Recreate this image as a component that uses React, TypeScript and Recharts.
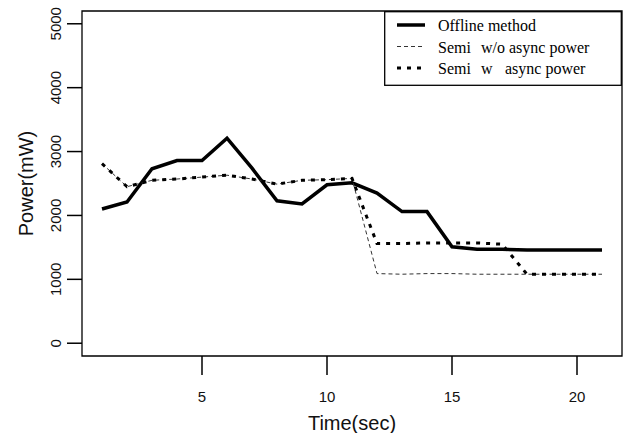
import { LineChart, Line, XAxis, YAxis, ReferenceArea, Legend } from 'recharts';

// seconds
const timeSec = [1, 2, 3, 4, 5, 6, 7, 8, 9, 10, 11, 12, 13, 14, 15, 16, 17, 18, 19, 20, 21];

// power in mW
const offlinePower = [2100, 2210, 2730, 2860, 2860, 3210, 2740, 2230, 2180, 2480, 2510, 2350, 2060, 2060, 1510, 1470, 1470, 1460, 1460, 1460, 1460];
const semiNoAsync = [2810, 2450, 2550, 2570, 2600, 2630, 2570, 2490, 2550, 2560, 2580, 1090, 1080, 1090, 1090, 1080, 1080, 1080, 1080, 1080, 1080];
const semiAsync = [2810, 2450, 2550, 2570, 2600, 2630, 2570, 2490, 2550, 2560, 2580, 1560, 1560, 1570, 1570, 1570, 1550, 1080, 1080, 1080, 1080];

const xTicks = [5, 10, 15, 20];
const yTicks = [0, 1000, 2000, 3000, 4000, 5000];

const SANS = "Arial, 'Liberation Sans', sans-serif";
const SERIF = "'Times New Roman', 'Liberation Serif', serif";

const SERIES = [
  { key: 'offline', label: 'Offline method', width: 3.5, dash: undefined as string | undefined, colour: '#000' },
  { key: 'semiNo', label: 'Semi   w/o async power', width: 1, dash: '4 3', colour: '#333' },
  { key: 'semiW', label: 'Semi   w    async power', width: 3, dash: '4 6', colour: '#000' },
];

const chartData = timeSec.map((t, i) => ({
  t,
  offline: offlinePower[i],
  semiNo: semiNoAsync[i],
  semiW: semiAsync[i],
}));

function YTick(props: any) {
  const { x, y, payload } = props;
  const cx = x - 11;
  return (
    <text
      x={cx}
      y={y}
      transform={`rotate(-90, ${cx}, ${y})`}
      textAnchor="middle"
      dominantBaseline="central"
      fontSize={15}
      fontFamily={SANS}
      fill="#111"
    >
      {payload.value}
    </text>
  );
}

function LegendBox() {
  return (
    <svg width={238} height={75} style={{ display: 'block' }}>
      <rect x={0.7} y={0.7} width={236.6} height={73.6} fill="#fff" stroke="#000" strokeWidth={1.3} />
      {SERIES.map((s, i) => {
        const cy = 14 + i * 21.5;
        const parts = s.label.split(/\s{2,}/);
        return (
          <g key={s.key}>
            <line x1={13} x2={41} y1={cy} y2={cy} stroke={s.colour} strokeWidth={s.width} strokeDasharray={s.dash} />
            <text y={cy} dominantBaseline="central" fontSize={16} fontFamily={SERIF} fill="#000">
              <tspan x={54}>{parts[0]}</tspan>
              <tspan x={97}>{parts[1]}</tspan>
              <tspan x={121}>{parts[2]}</tspan>
            </text>
          </g>
        );
      })}
    </svg>
  );
}

export default function App() {
  return (
    <div style={{ position: 'absolute', left: 0, top: 0, background: '#fff' }}>
      <LineChart width={628} height={433} data={chartData} margin={{ top: 11, right: 6, bottom: 0, left: 0 }}>
        <ReferenceArea x1={0.2} x2={21.8} y1={-200} y2={5200} fill="none" stroke="#000" strokeWidth={1.3} />
        <XAxis
          dataKey="t"
          type="number"
          domain={[0.2, 21.8]}
          ticks={xTicks}
          height={77}
          axisLine={false}
          tickSize={19}
          tickMargin={16}
          tickLine={{ stroke: '#000', strokeWidth: 1.5 }}
          tick={{ fill: '#111', fontSize: 15, fontFamily: SANS }}
          label={{ value: 'Time(sec)', position: 'insideBottom', offset: 3, fontSize: 20, fontFamily: SANS, fill: '#111' }}
        />
        <YAxis
          type="number"
          domain={[-200, 5200]}
          ticks={yTicks}
          width={82}
          axisLine={false}
          tickSize={15}
          tickMargin={0}
          tickLine={{ stroke: '#000', strokeWidth: 1.5 }}
          tick={<YTick />}
          label={{
            content: (p: any) => {
              const vb = p.viewBox;
              const cx = vb.x + 26;
              const cy = vb.y + vb.height / 2;
              return (
                <text
                  x={cx}
                  y={cy}
                  transform={`rotate(-90, ${cx}, ${cy})`}
                  textAnchor="middle"
                  dominantBaseline="central"
                  fontSize={20}
                  fontFamily={SANS}
                  fill="#111"
                >
                  Power(mW)
                </text>
              );
            },
          }}
        />
        <Legend
          layout="vertical"
          align="center"
          verticalAlign="middle"
          wrapperStyle={{ left: 384, top: 11, width: 238, height: 75 }}
          content={() => <LegendBox />}
        />
        {SERIES.map((s) => (
          <Line
            key={s.key}
            dataKey={s.key}
            type="linear"
            stroke={s.colour}
            strokeWidth={s.width}
            strokeDasharray={s.dash}
            dot={false}
            isAnimationActive={false}
          />
        ))}
      </LineChart>
    </div>
  );
}
